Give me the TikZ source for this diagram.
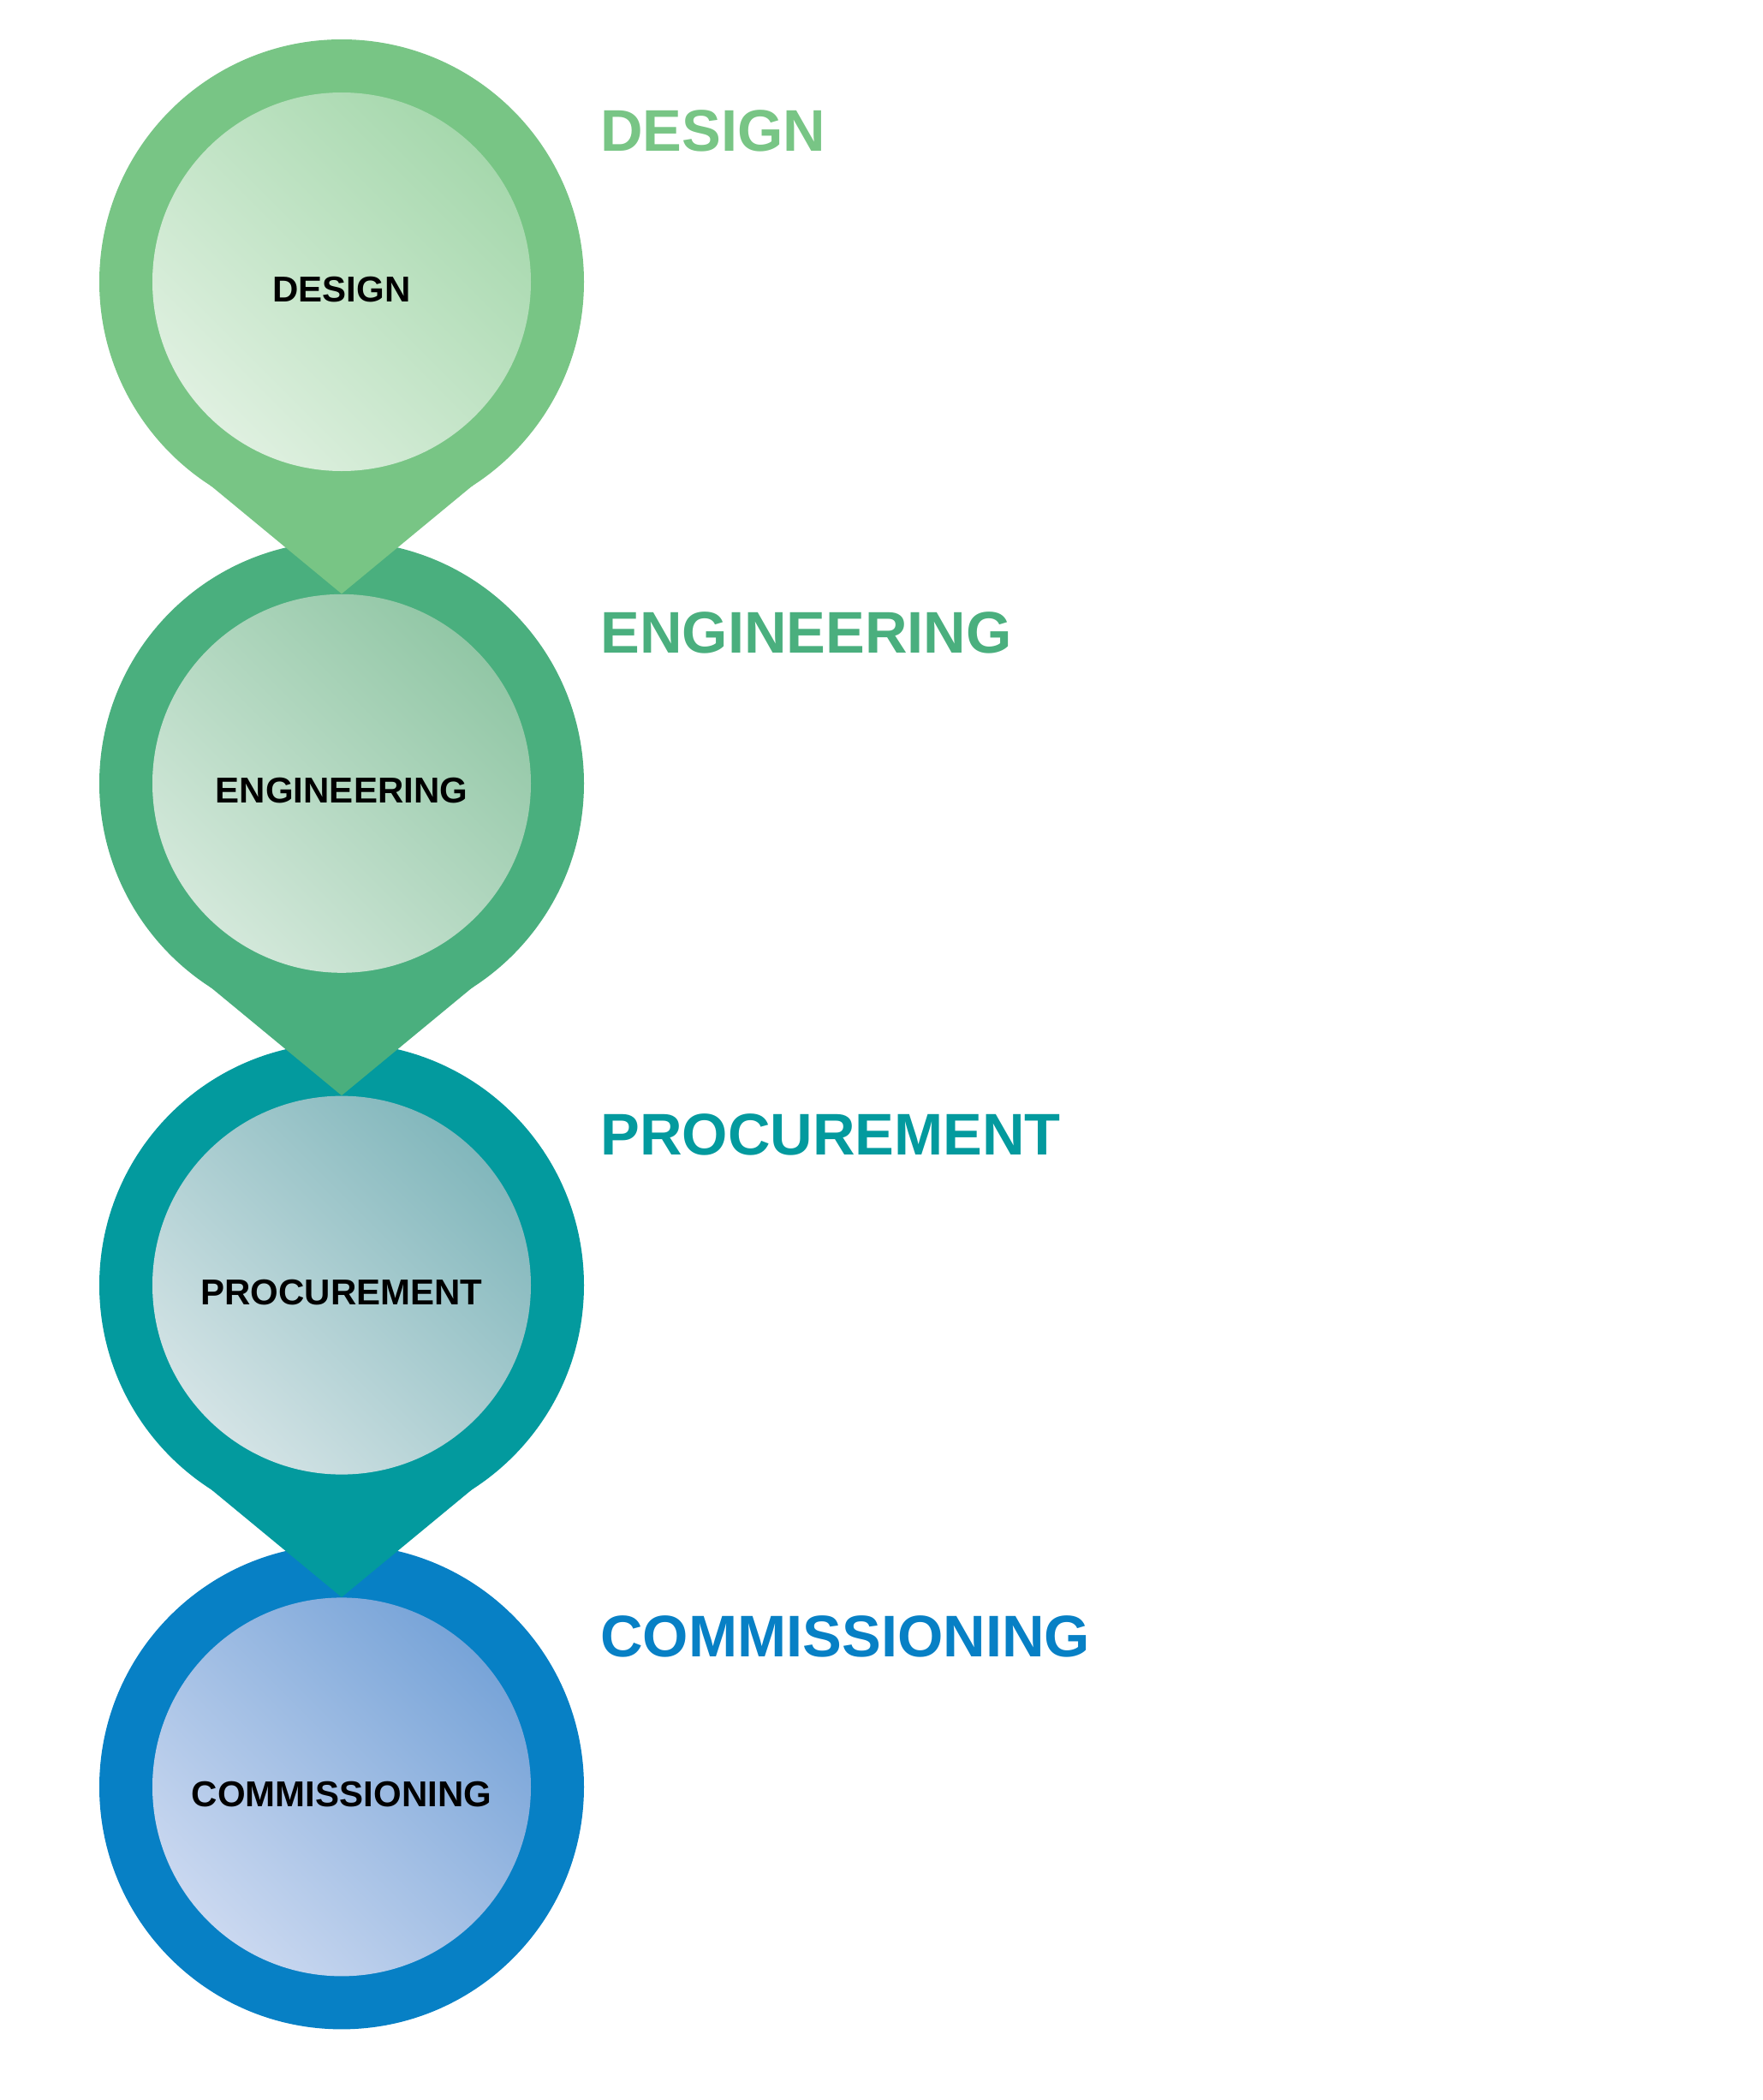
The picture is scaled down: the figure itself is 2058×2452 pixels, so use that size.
\documentclass[tikz,border=0pt]{standalone}
\usepackage{fontspec}
\setmainfont{Liberation Sans}
\usetikzlibrary{calc}
\definecolor{ringA}{HTML}{78C585}
\definecolor{ringB}{HTML}{4AAF7E}
\definecolor{ringC}{HTML}{039A9E}
\definecolor{ringD}{HTML}{0780C5}
\definecolor{lightA}{HTML}{DFF0E0}
\definecolor{darkA}{HTML}{A6D8AD}
\definecolor{lightB}{HTML}{D3E8DA}
\definecolor{darkB}{HTML}{92C7A6}
\definecolor{lightC}{HTML}{D3E3E5}
\definecolor{darkC}{HTML}{82B7BC}
\definecolor{lightD}{HTML}{CAD8F0}
\definecolor{darkD}{HTML}{78A4D8}
\tikzset{
  ring/.style={circle, inner sep=0pt, minimum size=283pt, draw=none},
  core/.style={circle, inner sep=0pt, minimum size=221pt, draw=none, shading=axis},
  corelab/.style={anchor=base, inner sep=0pt, font=\fontsize{21}{25}\selectfont\bfseries, text=black},
  sidelab/.style={anchor=base west, inner sep=0pt, font=\fontsize{34.3}{41}\selectfont\bfseries},
}
\begin{document}
\begin{tikzpicture}[x=0.5pt,y=-0.5pt]
\useasboundingbox (0,0) rectangle (2058,2452);
% outer rings, bottom first
\node[ring, fill=ringD] (o4) at (399,2086.4) {};
\node[ring, fill=ringC] (o3) at (399,1500.6) {};
\coordinate (t3) at ($(o3.center)+(0,364.3)$);
\fill[ringC] (t3) -- ($(o3.center)+(-153.9,237.2)$) -- ($(o3.center)+(153.9,237.2)$) -- cycle;
\node[ring, fill=ringB] (o2) at (399,914.8) {};
\coordinate (t2) at ($(o2.center)+(0,364.3)$);
\fill[ringB] (t2) -- ($(o2.center)+(-153.9,237.2)$) -- ($(o2.center)+(153.9,237.2)$) -- cycle;
\node[ring, fill=ringA] (o1) at (399,329) {};
\coordinate (t1) at ($(o1.center)+(0,364.3)$);
\fill[ringA] (t1) -- ($(o1.center)+(-153.9,237.2)$) -- ($(o1.center)+(153.9,237.2)$) -- cycle;
% inner shaded circles
\node[core, top color=darkA, bottom color=lightA, shading angle=-45] (i1) at (o1) {};
\node[core, top color=darkB, bottom color=lightB, shading angle=-45] (i2) at (o2) {};
\node[core, top color=darkC, bottom color=lightC, shading angle=-45] (i3) at (o3) {};
\node[core, top color=darkD, bottom color=lightD, shading angle=-45] (i4) at (o4) {};
% inner labels
\node[corelab] (l1) at ($(o1.center)+(0,23)$) {DESIGN};
\node[corelab] (l2) at ($(o2.center)+(0,23)$) {ENGINEERING};
\node[corelab] (l3) at ($(o3.center)+(0,23)$) {PROCUREMENT};
\node[corelab] (l4) at ($(o4.center)+(0,23)$) {COMMISSIONING};
% side labels
\node[sidelab, text=ringA] (s1) at (701,176.7) {DESIGN};
\node[sidelab, text=ringB] (s2) at (701,762.5) {ENGINEERING};
\node[sidelab, text=ringC] (s3) at (701,1348.3) {PROCUREMENT};
\node[sidelab, text=ringD] (s4) at (701,1934.1) {COMMISSIONING};
\end{tikzpicture}
\end{document}
